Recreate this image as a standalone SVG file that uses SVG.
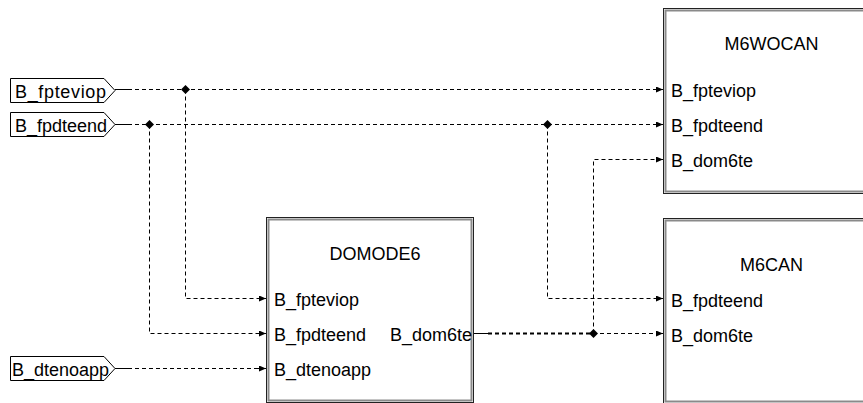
<svg xmlns="http://www.w3.org/2000/svg" width="863" height="403" viewBox="0 0 863 403">
<style>
text{font-family:"Liberation Sans",Arial,sans-serif;font-size:18px;fill:#000}
.title{text-anchor:middle}
.blk-o{fill:#fff;stroke:#222;stroke-width:1}
.blk-i{fill:none;stroke:#8a8a8a;stroke-width:2}
.inp{fill:#fff;stroke:#000;stroke-width:1}
.w{fill:none;stroke:#000;stroke-width:1;stroke-dasharray:4 3}
.ws{fill:none;stroke:#000;stroke-width:1}
.wb{fill:none;stroke:#000;stroke-width:2;stroke-dasharray:4 3}
.dot{fill:#000}
</style>
<defs>
<marker id="ah" markerWidth="7" markerHeight="6" refX="7" refY="3" orient="auto" markerUnits="userSpaceOnUse">
<path d="M0,0 L7,3 L0,6 Z" fill="#000"/>
</marker>
<path id="dia" d="M0,-4.5 L4.5,0 L0,4.5 L-4.5,0 Z"/>
</defs>

<g id="in_fpteviop">
<path class="inp" d="M10.5,78.5 H104 L115,90.5 L104,102.5 H10.5 Z"/>
<text x="15" y="98" textLength="91" lengthAdjust="spacing">B_fpteviop</text>
</g>
<g id="in_fpdteend">
<path class="inp" d="M10.5,112.5 H104 L115,124.5 L104,136.5 H10.5 Z"/>
<text x="15" y="132">B_fpdteend</text>
</g>
<g id="in_dtenoapp">
<path class="inp" d="M10.5,356.5 H104 L115,368.5 L104,380.5 H10.5 Z"/>
<text x="12" y="376">B_dtenoapp</text>
</g>

<g id="DOMODE6">
<rect class="blk-o" x="266.5" y="217.5" width="207" height="185"/>
<rect class="blk-i" x="268.5" y="219.5" width="203" height="181"/>
<text class="title" x="375" y="260">DOMODE6</text>
<text x="274" y="305.5">B_fpteviop</text>
<text x="274" y="340.5">B_fpdteend</text>
<text x="274" y="375.5">B_dtenoapp</text>
<text x="472" y="340.5" text-anchor="end">B_dom6te</text>
</g>

<g id="M6WOCAN">
<rect class="blk-o" x="663.5" y="8.5" width="230" height="185"/>
<rect class="blk-i" x="665.5" y="10.5" width="226" height="181"/>
<text class="title" x="771.5" y="50">M6WOCAN</text>
<text x="671" y="97">B_fpteviop</text>
<text x="671" y="132">B_fpdteend</text>
<text x="671" y="167">B_dom6te</text>
</g>

<g id="M6CAN">
<rect class="blk-o" x="663.5" y="218.5" width="230" height="185"/>
<rect class="blk-i" x="665.5" y="220.5" width="226" height="181"/>
<text class="title" x="771.5" y="271">M6CAN</text>
<text x="671" y="306.5">B_fpdteend</text>
<text x="671" y="341.5">B_dom6te</text>
</g>

<g id="connectors">
<path class="ws" d="M115,89.5 H128"/>
<path class="w" d="M128,89.5 H656"/>
<path class="ws" d="M656,89.5 H663" marker-end="url(#ah)"/>
<path class="w" d="M185.5,89.5 V298.5 H260"/>
<path class="ws" d="M258,298.5 H266" marker-end="url(#ah)"/>
<use href="#dia" x="185.5" y="89.5" class="dot"/>
<path class="ws" d="M115,124.5 H128"/>
<path class="w" d="M128,124.5 H656"/>
<path class="ws" d="M656,124.5 H663" marker-end="url(#ah)"/>
<path class="w" d="M149.5,124.5 V333.5 H260"/>
<path class="ws" d="M258,333.5 H266" marker-end="url(#ah)"/>
<path class="w" d="M547.5,124.5 V298.5 H656"/>
<path class="ws" d="M656,298.5 H663" marker-end="url(#ah)"/>
<use href="#dia" x="149.5" y="124.5" class="dot"/>
<use href="#dia" x="547.5" y="124.5" class="dot"/>
<path class="ws" d="M115,368.5 H128"/>
<path class="w" d="M128,368.5 H260"/>
<path class="ws" d="M258,368.5 H266" marker-end="url(#ah)"/>
<path class="ws" d="M474,333.5 H488"/>
<path class="wb" d="M488,333.5 H593"/>
<path class="w" d="M593,333.5 H656"/>
<path class="ws" d="M656,333.5 H663" marker-end="url(#ah)"/>
<path class="w" d="M593.5,333.5 V159.5 H656"/>
<path class="ws" d="M656,159.5 H663" marker-end="url(#ah)"/>
<use href="#dia" x="593.5" y="333.5" class="dot"/>
</g>
</svg>
